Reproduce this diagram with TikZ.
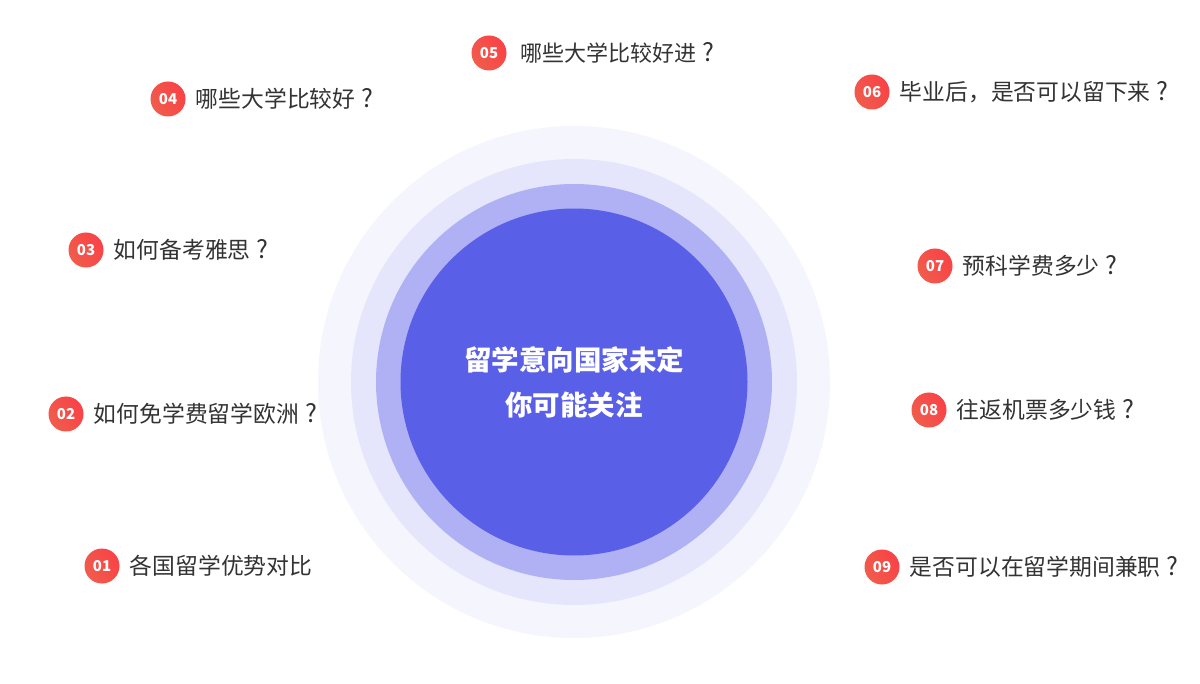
\documentclass[tikz,border=0pt]{standalone}
\usepackage{fontspec}
\newfontfamily\cjk{Noto Sans CJK SC}
\usetikzlibrary{positioning}
\definecolor{ringA}{RGB}{245,245,253}
\definecolor{ringB}{RGB}{229,230,251}
\definecolor{ringC}{RGB}{175,177,244}
\definecolor{core}{RGB}{90,95,232}
\definecolor{badgeL}{RGB}{240,92,76}
\definecolor{badgeR}{RGB}{249,66,70}
\definecolor{txt}{RGB}{51,51,51}
\newcommand{\qmark}{\makebox[1.05em]{\fontsize{25}{25}\selectfont ?}}

\begin{document}
\begin{tikzpicture}[x=1pt,y=-1pt,
  ring/.style={circle,inner sep=0pt,draw=none},
  num/.style={circle,minimum size=35pt,inner sep=0pt,left color=badgeL,right color=badgeR,shading angle=120,
    text=white,font=\cjk\bfseries\fontsize{15}{15}\selectfont},
  q/.style={inner sep=0pt,text=txt,font=\cjk\fontsize{22.8}{22.8}\selectfont}]
  \useasboundingbox[fill=white] (0,0) rectangle (1200,684);
  % rings
  \node[ring,fill=ringA,minimum size=512pt] (r1) at (574,382) {};
  \node[ring,fill=ringB,minimum size=446pt] (r2) at (574,382) {};
  \node[ring,fill=ringC,minimum size=396pt] (r3) at (574,382) {};
  \node[ring,fill=core,minimum size=347pt] (r4) at (574,382) {};
  \node[text=white,align=center,font=\cjk\bfseries\fontsize{27.5}{45}\selectfont] (title) at (574,382) {留学意向国家未定\\你可能关注};
  % left column
  \node[num] (n1) at (102,566) {01};\node[q,right=10pt of n1] (q1) {各国留学优势对比};
  \node[num] (n2) at (66,414) {02};\node[q,right=10pt of n2] (q2) {如何免学费留学欧洲\qmark};
  \node[num] (n3) at (86,250) {03};\node[q,right=10pt of n3] (q3) {如何备考雅思\qmark};
  \node[num] (n4) at (168,99) {04};\node[q,right=10pt of n4] (q4) {哪些大学比较好\qmark};
  \node[num] (n5) at (489,53) {05};\node[q,right=14pt of n5,font=\cjk\fontsize{22}{22}\selectfont] (q5) {哪些大学比较好进\qmark};
  % right column
  \node[num] (n6) at (872,92) {06};\node[q,right=10pt of n6] (q6) {毕业后，是否可以留下来\qmark};
  \node[num] (n7) at (935,266) {07};\node[q,right=10pt of n7] (q7) {预科学费多少\qmark};
  \node[num] (n8) at (929,410) {08};\node[q,right=10pt of n8] (q8) {往返机票多少钱\qmark};
  \node[num] (n9) at (882,567) {09};\node[q,right=10pt of n9] (q9) {是否可以在留学期间兼职\qmark};
\end{tikzpicture}
\end{document}
